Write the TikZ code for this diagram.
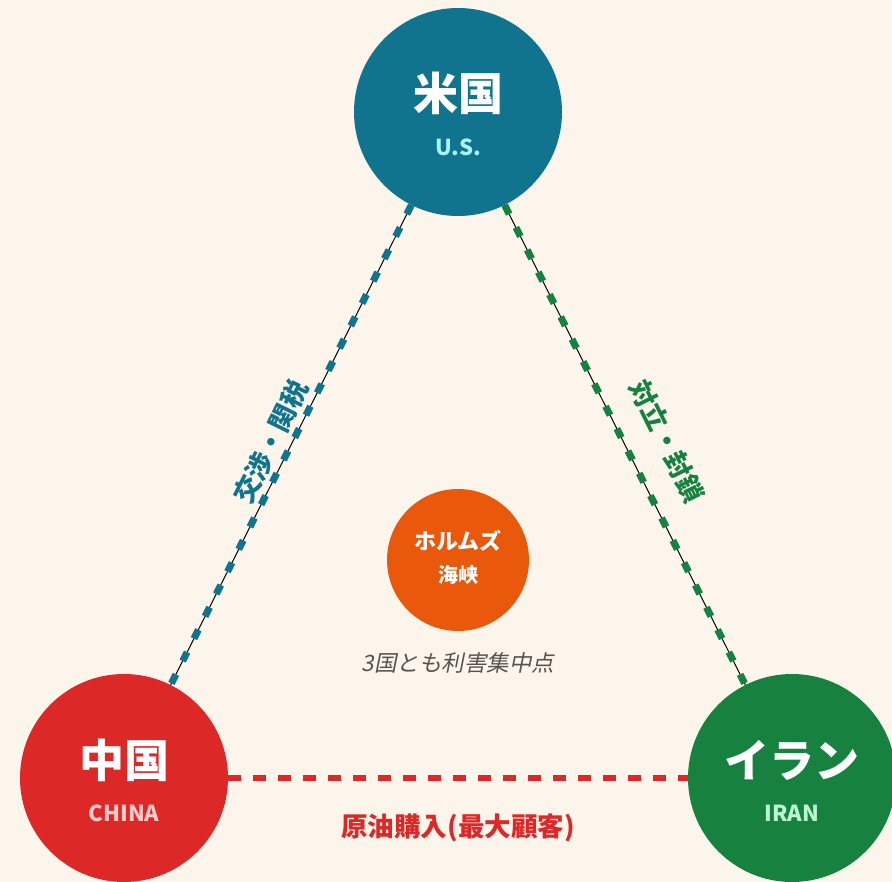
\documentclass[tikz,border=0pt]{standalone}
\usepackage{fontspec}
\setmainfont{Noto Sans CJK JP}
\newfontfamily\jpit{Noto Sans CJK JP}[FakeSlant=0.2]
\definecolor{bgc}{HTML}{FCF5EC}
\definecolor{tealc}{HTML}{10748F}
\definecolor{redc}{HTML}{DD2828}
\definecolor{greenc}{HTML}{178240}
\definecolor{orangec}{HTML}{EA580C}
\definecolor{grayc}{HTML}{57534E}
\definecolor{usl}{HTML}{A5F3FC}
\definecolor{chl}{HTML}{FECACA}
\definecolor{irl}{HTML}{BBF7D0}
\tikzset{
  country/.style={circle, minimum size=208pt, inner sep=0pt, draw=none},
  hub/.style={circle, minimum size=142pt, inner sep=0pt, fill=orangec},
  bigtxt/.style={text=white, font=\fontsize{45}{48}\selectfont\bfseries, inner sep=0pt},
  subtxt/.style={font=\fontsize{22}{26}\selectfont\bfseries, inner sep=0pt},
  linklbl/.style={font=\fontsize{26.5}{30}\selectfont\bfseries, inner sep=0pt},
  thinline/.style={black, line width=1pt},
  dashlink/.style={line width=7pt, dash pattern=on 10pt off 15pt},
}
\begin{document}
\begin{tikzpicture}[x=1pt,y=-1pt]
\fill[bgc] (0,0) rectangle (892,882);
\useasboundingbox (0,0) rectangle (892,882);
\clip (0,0) rectangle (892,882);
% circles
\node[country, fill=tealc] (us) at (458,112) {};
\node[country, fill=redc] (china) at (124,778) {};
\node[country, fill=greenc] (iran) at (792,778) {};
\node[hub] (hormuz) at (458,560) {};
% connectors
\draw[thinline] (us) -- (china);
\draw[tealc, dashlink] (us) -- (china);
\draw[thinline] (us) -- (iran);
\draw[greenc, dashlink] (us) -- (iran);
\draw[redc, line width=5.5pt, dash pattern=on 13pt off 12pt] (china) -- (iran);
% texts
\node[bigtxt] (ust) at (458,93) {米国};
\node[subtxt, text=usl] (uss) at (458,147) {U.S.};
\node[bigtxt] (cht) at (124,760) {中国};
\node[subtxt, text=chl] (chs) at (124,813) {CHINA};
\node[bigtxt] (irt) at (792,760) {イラン};
\node[subtxt, text=irl] (irs) at (792,813) {IRAN};
\node[text=white, font=\fontsize{22}{26}\selectfont\bfseries, inner sep=0pt] (ht) at (458,541) {ホルムズ};
\node[text=white, font=\fontsize{20}{22}\selectfont\bfseries, inner sep=0pt] (hs) at (458,575) {海峡};
\node[text=grayc, font=\fontsize{22.5}{25}\selectfont\jpit, inner sep=0pt] (note) at (458,663) {3国とも利害集中点};
\node[linklbl, text=tealc, rotate=63.7] (l1) at (271,442) {交渉・関税};
\node[linklbl, text=greenc, rotate=-63.7] (l2) at (667,441) {対立・封鎖};
\node[linklbl, text=redc] (l3) at (458,828) {原油購入(最大顧客)};
\end{tikzpicture}
\end{document}
